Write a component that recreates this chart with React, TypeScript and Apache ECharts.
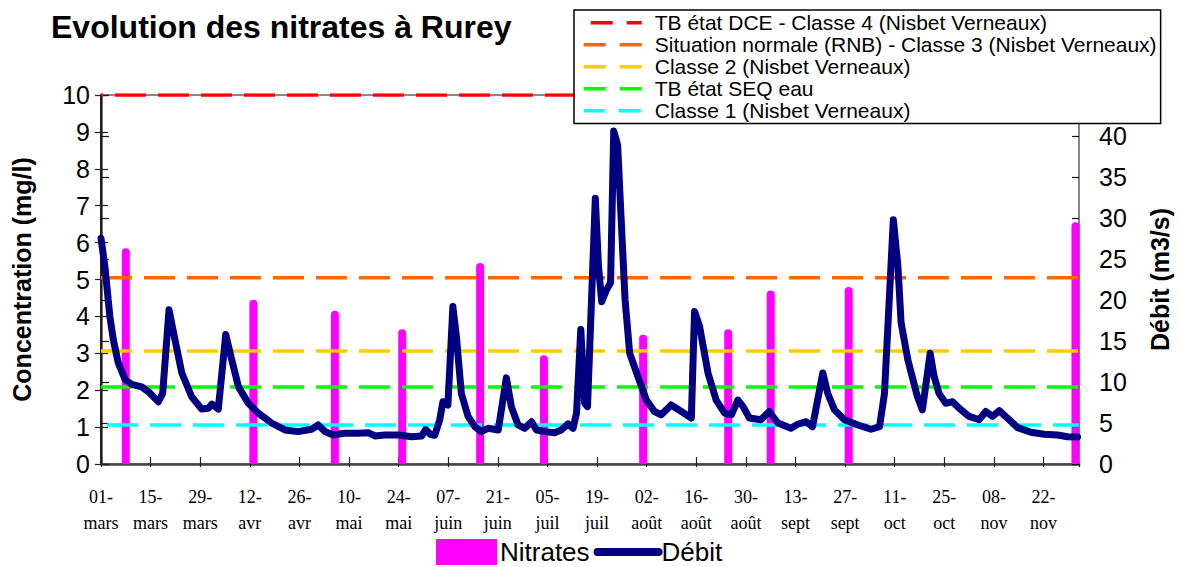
import React, { useEffect, useRef } from "react";
import * as echarts from "echarts";

// x axis: days since 01 March
const tickDays = ["01-", "15-", "29-", "12-", "26-", "10-", "24-", "07-", "21-", "05-", "19-", "02-", "16-", "30-", "13-", "27-", "11-", "25-", "08-", "22-"];
const tickMonths = ["mars", "mars", "mars", "avr", "avr", "mai", "mai", "juin", "juin", "juil", "juil", "août", "août", "août", "sept", "sept", "oct", "oct", "nov", "nov"];

// Nitrates (mg/l)
const nitrateDays = [7, 43, 66, 85, 107, 125, 153, 177, 189, 211, 275];
const nitrateValues = [5.85, 4.45, 4.15, 3.65, 5.45, 2.95, 3.5, 3.65, 4.7, 4.8, 6.55];

// Débit (m3/s)
const debitDays = [0, 1.1, 2.5, 3.5, 4.9, 6.8, 8.7, 11.5, 13.4, 16.2, 17.4, 19.2, 20.9, 22.8, 25.6, 28.4, 30.3, 31.3, 33.1, 35.2, 36.9, 38.8, 41.6, 44.4, 46.3, 48.1, 51.9, 55.6, 59.4, 61.3, 63.2, 65.5, 68.8, 72.6, 75.4, 77.3, 80.1, 83.9, 87.7, 90.5, 91.6, 93, 94.2, 95.6, 96.5, 97.9, 99.3, 100.3, 101.7, 103.6, 105.5, 107.3, 109.2, 112.1, 114.4, 115.8, 117.7, 119.6, 121.5, 122.9, 125.2, 128, 129.9, 131.8, 133.2, 134.2, 135.4, 136.5, 137.3, 139.5, 140.4, 141.3, 142.6, 143.8, 144.7, 145.8, 146.8, 147.9, 149.2, 151.5, 153.9, 156.2, 158.1, 160.9, 163.8, 166.6, 167.5, 168.9, 171.3, 173.6, 176, 177.9, 179.7, 181.2, 183, 186.2, 188.6, 191, 194.7, 196.6, 199, 200.8, 203.7, 205.1, 207, 209.8, 213.6, 217.3, 219.7, 221.1, 223.6, 224.9, 225.8, 227.7, 230.4, 231.8, 234, 235.1, 236.5, 238.4, 240.3, 242.2, 245, 247.8, 249.7, 251.6, 253.5, 255.8, 258.7, 262.4, 266.2, 269.9, 272.8, 275.6];
const debitValues = [27.5, 24.1, 18.0, 15.1, 12.3, 10.3, 9.7, 9.4, 8.8, 7.6, 8.6, 18.8, 15.1, 11.1, 8.2, 6.7, 6.8, 7.3, 6.7, 15.8, 12.7, 9.4, 7.4, 6.2, 5.6, 5.0, 4.15, 3.95, 4.24, 4.76, 3.95, 3.54, 3.75, 3.75, 3.82, 3.42, 3.54, 3.54, 3.33, 3.42, 4.2, 3.6, 3.5, 5.4, 7.6, 7.2, 19.2, 15.5, 8.6, 5.8, 4.55, 3.95, 4.35, 4.15, 10.5, 7.0, 4.76, 4.35, 5.16, 4.15, 3.95, 3.82, 4.15, 4.88, 4.35, 6.2, 16.4, 7.4, 7.0, 32.4, 24.1, 19.8, 21.2, 22.1, 40.6, 38.9, 29.8, 20.0, 13.5, 10.7, 7.8, 6.4, 6.0, 7.2, 6.4, 5.6, 18.6, 16.8, 11.1, 7.8, 6.2, 6.0, 7.8, 7.0, 5.6, 5.4, 6.4, 5.0, 4.35, 4.85, 5.16, 4.55, 11.1, 8.6, 6.6, 5.4, 4.76, 4.24, 4.55, 8.6, 29.8, 24.1, 17.2, 12.7, 8.2, 6.6, 13.5, 10.7, 8.6, 7.4, 7.6, 6.8, 5.8, 5.4, 6.4, 5.8, 6.5, 5.6, 4.44, 3.87, 3.63, 3.54, 3.33, 3.3];

// Threshold lines (mg/l)
const thresholdNames = [
  "TB état DCE - Classe 4 (Nisbet Verneaux)",
  "Situation normale (RNB) - Classe 3 (Nisbet Verneaux)",
  "Classe 2 (Nisbet Verneaux)",
  "TB état SEQ eau",
  "Classe 1 (Nisbet Verneaux)",
];
const thresholdValues = [10, 5.05, 3.06, 2.09, 1.06];
const thresholdColors = ["#ff0000", "#ff6600", "#ffcc00", "#00ff00", "#00ffff"];
const thresholdOffsets = [29, 0, 0, 0, 37];

const X_MAX = 276;
const SANS = "'Liberation Sans', Arial, sans-serif";
const SERIF = "'Liberation Serif', 'Times New Roman', serif";

export default function App() {
  const ref = useRef<HTMLDivElement>(null);
  useEffect(() => {
    if (!ref.current) return;
    const chart = echarts.init(ref.current, undefined, { renderer: "svg" });

    const thresholdSeries = thresholdNames.map((name, i) => ({
      name,
      type: "line",
      xAxisIndex: 0,
      yAxisIndex: 0,
      data: [
        [0, thresholdValues[i]],
        [X_MAX, thresholdValues[i]],
      ],
      symbol: "none",
      silent: true,
      color: thresholdColors[i],
      lineStyle: { color: thresholdColors[i], width: 3.5, type: [31, 12], dashOffset: thresholdOffsets[i] },
    }));

    const hiddenSymbol = { color: "rgba(0,0,0,0)", borderWidth: 0, opacity: 0 };

    const option: any = {
      animation: false,
      backgroundColor: "#fff",
      title: {
        text: "Evolution des nitrates à Rurey",
        left: 51,
        top: 11,
        padding: 0,
        textStyle: { fontFamily: SANS, fontSize: 32, fontWeight: "bold", color: "#000" },
      },
      grid: {
        left: 101,
        right: 102,
        top: 95,
        bottom: 103,
        show: true,
        borderColor: "#888",
        borderWidth: 2,
      },
      legend: [
        {
          data: thresholdNames.map((n) => ({ name: n, itemStyle: hiddenSymbol })),
          orient: "vertical",
          left: 574,
          top: 10,
          padding: [2, 4, 2, 8],
          itemGap: 0.5,
          itemWidth: 58,
          itemHeight: 21,
          backgroundColor: "#fff",
          borderColor: "#000",
          borderWidth: 1.5,
          lineStyle: { type: [22, 14], width: 3.5 },
          textStyle: { fontFamily: SANS, fontSize: 21, lineHeight: 21.5, color: "#000", padding: [0, 0, 0, 8] },
          selectedMode: false,
        },
        {
          data: [
            { name: "Nitrates", icon: "rect" },
            { name: "Débit", itemStyle: hiddenSymbol },
          ],
          orient: "horizontal",
          left: 436,
          top: 539,
          padding: 0,
          itemGap: 4,
          itemWidth: 61,
          itemHeight: 26,
          lineStyle: { width: 8, cap: "round" },
          textStyle: { fontFamily: SANS, fontSize: 26, lineHeight: 26, color: "#000", padding: [0, 0, 0, -2] },
          selectedMode: false,
        },
      ],
      xAxis: [
        {
          type: "value",
          min: 0,
          max: X_MAX,
          interval: 14,
          position: "bottom",
          axisLine: { show: true, lineStyle: { color: "#444", width: 2.5 } },
          axisTick: { show: true, inside: true, length: 7, lineStyle: { color: "#222", width: 1.2 } },
          splitLine: { show: false },
          axisLabel: {
            margin: 20,
            fontFamily: SERIF,
            fontSize: 18,
            lineHeight: 26,
            color: "#000",
            showMaxLabel: false,
            formatter: (v: number) => {
              const i = Math.round(v / 14);
              if (Math.abs(v - i * 14) > 0.01 || i >= tickDays.length) return "";
              return tickDays[i] + "\n" + tickMonths[i];
            },
          },
        },
        {
          type: "value",
          min: 0,
          max: X_MAX,
          interval: 14,
          position: "bottom",
          axisLine: { show: false },
          axisTick: { show: true, inside: false, length: 3, lineStyle: { color: "#222", width: 1.2 } },
          splitLine: { show: false },
          axisLabel: { show: false },
        },
      ],
      yAxis: [
        {
          type: "value",
          min: 0,
          max: 10,
          interval: 1,
          position: "left",
          name: "Concentration (mg/l)",
          nameLocation: "middle",
          nameRotate: 90,
          nameGap: 67,
          nameTextStyle: { fontFamily: SANS, fontSize: 25, fontWeight: "bold", color: "#000" },
          axisLine: { show: true, lineStyle: { color: "#444", width: 2.5 } },
          axisTick: { show: true, inside: false, length: 6, lineStyle: { color: "#222", width: 1.2 } },
          splitLine: { show: false },
          axisLabel: { margin: 11, fontFamily: SANS, fontSize: 25, color: "#000" },
        },
        {
          type: "value",
          min: 0,
          max: 45,
          interval: 5,
          position: "right",
          name: "Débit (m3/s)",
          nameLocation: "middle",
          nameRotate: 90,
          nameGap: 68,
          nameTextStyle: { fontFamily: SANS, fontSize: 25, fontWeight: "bold", color: "#000" },
          axisLine: { show: true, lineStyle: { color: "#111", width: 1.5 } },
          axisTick: { show: true, inside: false, length: 8, lineStyle: { color: "#111", width: 1.2 } },
          splitLine: { show: false },
          axisLabel: {
            margin: 20,
            fontFamily: SANS,
            fontSize: 25,
            color: "#000",
            formatter: (v: number) => (v >= 45 ? "" : String(v)),
          },
        },
        {
          type: "value",
          min: 0,
          max: 10,
          interval: 1,
          position: "left",
          axisLine: { show: false },
          axisTick: { show: true, inside: true, length: 7, lineStyle: { color: "#222", width: 1.2 } },
          splitLine: { show: false },
          axisLabel: { show: false },
        },
        {
          type: "value",
          min: 0,
          max: 45,
          interval: 5,
          position: "right",
          axisLine: { show: false },
          axisTick: { show: true, inside: true, length: 7, lineStyle: { color: "#111", width: 1.2 } },
          splitLine: { show: false },
          axisLabel: { show: false },
        },
      ],
      series: [
        {
          name: "Nitrates",
          type: "bar",
          xAxisIndex: 0,
          yAxisIndex: 0,
          barWidth: 8,
          color: "#ff00ff",
          itemStyle: { color: "#ff00ff", borderRadius: [4, 4, 0, 0] },
          data: nitrateDays.map((d, i) => [d, nitrateValues[i]]),
        },
        ...thresholdSeries,
        {
          name: "Débit",
          type: "line",
          xAxisIndex: 0,
          yAxisIndex: 1,
          symbol: "none",
          color: "#000080",
          lineStyle: { color: "#000080", width: 7, cap: "round", join: "round" },
          data: debitDays.map((d, i) => [d, debitValues[i]]),
        },
      ],
    };
    chart.setOption(option);
    return () => chart.dispose();
  }, []);

  return (
    <div
      ref={ref}
      style={{ position: "fixed", left: 0, top: 0, width: 1181, height: 567, background: "#fff" }}
    />
  );
}
